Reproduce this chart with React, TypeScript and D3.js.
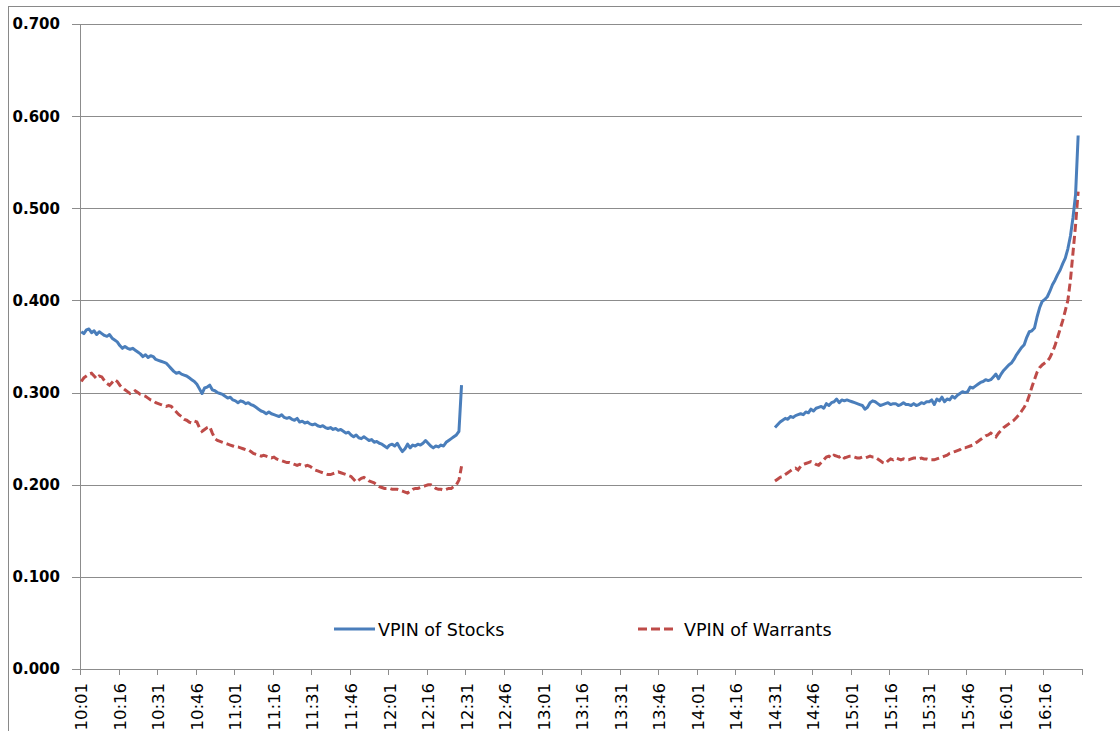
import React from "react";
import * as d3 from "d3";

// ---- Data ----
const tickLabels = [
  "10:01","10:16","10:31","10:46","11:01","11:16","11:31","11:46","12:01","12:16","12:31","12:46",
  "13:01","13:16","13:31","13:46","14:01","14:16","14:31","14:46","15:01","15:16","15:31","15:46",
  "16:01","16:16",
];
const firstMinute = 10 * 60 + 1; // 10:01
const lastMinute = 16 * 60 + 30; // 16:30
const amStart = "10:01";
const pmStart = "14:31";

const stocksAM = [
  0.366,0.364,0.368,0.369,0.365,0.367,0.363,0.366,0.364,0.362,
  0.361,0.363,0.359,0.357,0.355,0.351,0.348,0.350,0.348,0.347,
  0.348,0.346,0.344,0.342,0.339,0.341,0.338,0.340,0.339,0.336,
  0.335,0.334,0.333,0.332,0.329,0.326,0.323,0.321,0.322,0.320,
  0.319,0.318,0.316,0.314,0.312,0.309,0.304,0.299,0.305,0.306,
  0.308,0.303,0.302,0.300,0.299,0.298,0.296,0.294,0.295,0.292,
  0.291,0.289,0.291,0.290,0.288,0.289,0.287,0.286,0.284,0.282,
  0.280,0.279,0.277,0.279,0.277,0.276,0.275,0.274,0.276,0.273,
  0.272,0.273,0.271,0.270,0.272,0.268,0.269,0.267,0.268,0.266,
  0.265,0.266,0.264,0.263,0.264,0.262,0.261,0.262,0.260,0.261,
  0.259,0.260,0.258,0.256,0.257,0.254,0.252,0.254,0.251,0.250,
  0.252,0.250,0.248,0.249,0.246,0.247,0.245,0.244,0.242,0.240,
  0.243,0.244,0.242,0.245,0.240,0.236,0.239,0.244,0.240,0.243,
  0.242,0.244,0.243,0.245,0.248,0.245,0.242,0.240,0.242,0.241,
  0.243,0.242,0.246,0.248,0.250,0.252,0.254,0.258,0.308,
];
const warrantsAM = [
  0.312,0.316,0.318,0.320,0.321,0.318,0.315,0.318,0.317,0.313,
  0.310,0.308,0.311,0.314,0.312,0.308,0.305,0.303,0.301,0.299,
  0.300,0.302,0.300,0.298,0.297,0.296,0.294,0.292,0.291,0.289,
  0.288,0.287,0.286,0.285,0.286,0.285,0.282,0.279,0.276,0.274,
  0.271,0.270,0.268,0.267,0.269,0.268,0.262,0.258,0.260,0.262,
  0.263,0.256,0.250,0.248,0.247,0.246,0.245,0.244,0.243,0.242,
  0.241,0.241,0.240,0.239,0.238,0.238,0.236,0.234,0.233,0.232,
  0.231,0.232,0.231,0.230,0.229,0.230,0.228,0.227,0.226,0.225,
  0.224,0.224,0.223,0.222,0.221,0.222,0.221,0.220,0.221,0.220,
  0.218,0.216,0.215,0.214,0.213,0.212,0.211,0.211,0.212,0.213,
  0.214,0.213,0.212,0.211,0.210,0.209,0.206,0.203,0.205,0.207,
  0.208,0.206,0.204,0.203,0.202,0.200,0.198,0.197,0.196,0.196,
  0.196,0.195,0.195,0.195,0.194,0.193,0.192,0.191,0.193,0.195,
  0.196,0.196,0.197,0.198,0.199,0.200,0.200,0.198,0.196,0.195,
  0.195,0.194,0.195,0.196,0.196,0.198,0.200,0.205,0.220,
];
const stocksPM = [
  0.262,0.265,0.268,0.270,0.272,0.271,0.274,0.273,0.275,0.276,
  0.277,0.276,0.279,0.278,0.282,0.280,0.283,0.284,0.285,0.283,
  0.288,0.286,0.289,0.290,0.293,0.289,0.292,0.291,0.292,0.291,
  0.290,0.289,0.288,0.287,0.286,0.282,0.284,0.289,0.291,0.290,
  0.288,0.286,0.287,0.288,0.289,0.287,0.288,0.288,0.286,0.287,
  0.289,0.287,0.287,0.286,0.288,0.286,0.287,0.289,0.288,0.290,
  0.290,0.292,0.287,0.293,0.291,0.295,0.290,0.293,0.292,0.296,
  0.294,0.297,0.299,0.301,0.300,0.301,0.306,0.305,0.307,0.309,
  0.311,0.312,0.314,0.313,0.314,0.317,0.320,0.315,0.320,0.324,
  0.327,0.330,0.332,0.336,0.341,0.345,0.349,0.352,0.360,0.366,
  0.367,0.370,0.382,0.392,0.399,0.401,0.404,0.410,0.417,0.422,
  0.428,0.433,0.440,0.446,0.456,0.470,0.490,0.515,0.579,
];
const warrantsPM = [
  0.204,0.206,0.208,0.209,0.211,0.213,0.215,0.217,0.218,0.216,
  0.220,0.222,0.223,0.224,0.225,0.224,0.222,0.221,0.224,0.227,
  0.230,0.231,0.229,0.232,0.231,0.230,0.232,0.229,0.230,0.231,
  0.231,0.230,0.229,0.229,0.230,0.229,0.230,0.231,0.230,0.230,
  0.228,0.226,0.224,0.223,0.226,0.228,0.227,0.229,0.228,0.227,
  0.228,0.227,0.227,0.228,0.229,0.229,0.228,0.229,0.228,0.228,
  0.227,0.227,0.227,0.228,0.229,0.230,0.231,0.232,0.234,0.235,
  0.236,0.237,0.238,0.240,0.240,0.241,0.242,0.243,0.245,0.247,
  0.249,0.251,0.253,0.254,0.256,0.254,0.252,0.256,0.259,0.262,
  0.264,0.266,0.268,0.270,0.273,0.276,0.280,0.284,0.289,0.297,
  0.306,0.314,0.322,0.327,0.330,0.332,0.334,0.338,0.344,0.351,
  0.360,0.369,0.378,0.389,0.400,0.422,0.452,0.482,0.518,
];
const yTicks = [0, 0.1, 0.2, 0.3, 0.4, 0.5, 0.6, 0.7];
const seriesNames = ["VPIN of Stocks", "VPIN of Warrants"];

// ---- helpers ----
const fmtTime = (m: number) => `${Math.floor(m / 60)}:${String(m % 60).padStart(2, "0")}`;
const categories = d3.range(firstMinute, lastMinute + 1).map(fmtTime);

const W = 1120, H = 731;
const left = 80, right = 1082, top = 24, bottom = 669;

export default function App() {
  const x = d3.scaleBand<string>().domain(categories).range([left, right]).padding(0);
  const y = d3.scaleLinear().domain([0, 0.7]).range([bottom, top]);
  const bw = x.bandwidth();

  const toPts = (start: string, vals: number[]) => {
    const s = categories.indexOf(start);
    return vals.map((v, i) => [x(categories[s + i])! + bw / 2, y(v)] as [number, number]);
  };
  const line = d3.line<[number, number]>().x(d => d[0]).y(d => d[1]);

  const blue = "#4a7ebb";
  const red = "#be4b48";
  const grid = "#8c8c8c";
  const font = "'DejaVu Sans', sans-serif";

  const tickIdx = tickLabels.map(l => categories.indexOf(l));
  const boundaryIdx = [...tickIdx, categories.length];

  return (
    <svg width={W} height={H} style={{ position: "absolute", left: 0, top: 0, background: "#fff" }}>
      <rect x={8.5} y={6.5} width={W} height={H} fill="#fff" stroke="#898989" strokeWidth={1} />
      {/* gridlines + y ticks */}
      {yTicks.map(t => (
        <g key={t}>
          {t > 0 && <line x1={left} x2={right} y1={Math.round(y(t)) + 0.5} y2={Math.round(y(t)) + 0.5} stroke={grid} strokeWidth={1} />}
          <line x1={left - 8} x2={left} y1={Math.round(y(t)) + 0.5} y2={Math.round(y(t)) + 0.5} stroke={grid} strokeWidth={1} />
          <text x={60} y={y(t)} dy="0.36em" textAnchor="end" fontFamily={font} fontWeight="bold" fontSize={15} fill="#000">
            {t.toFixed(3)}
          </text>
        </g>
      ))}
      {/* axes */}
      <line x1={left + 0.5} x2={left + 0.5} y1={top} y2={bottom} stroke={grid} strokeWidth={1} />
      <line x1={left} x2={right} y1={bottom + 0.5} y2={bottom + 0.5} stroke={grid} strokeWidth={1} />
      {boundaryIdx.map(i => {
        const xx = i < categories.length ? x(categories[i])! : right;
        return <line key={i} x1={Math.round(xx) + 0.5} x2={Math.round(xx) + 0.5} y1={bottom} y2={bottom + 6} stroke={grid} strokeWidth={1} />;
      })}
      {tickLabels.map(l => {
        const cx = x(l)! + bw / 2;
        return (
          <text key={l} transform={`translate(${cx},${bottom + 14}) rotate(-90)`} dy="0.36em" textAnchor="end"
            fontFamily={font} fontSize={16.5} fill="#000">{l}</text>
        );
      })}
      {/* series */}
      <path d={line(toPts(amStart, warrantsAM))!} fill="none" stroke={red} strokeWidth={3} strokeDasharray="8,4" />
      <path d={line(toPts(pmStart, warrantsPM))!} fill="none" stroke={red} strokeWidth={3} strokeDasharray="8,4" />
      <path d={line(toPts(amStart, stocksAM))!} fill="none" stroke={blue} strokeWidth={3} strokeLinejoin="round" />
      <path d={line(toPts(pmStart, stocksPM))!} fill="none" stroke={blue} strokeWidth={3} strokeLinejoin="round" />
      {/* legend */}
      <line x1={334} x2={375} y1={629} y2={629} stroke={blue} strokeWidth={3} />
      <text x={378} y={636} fontFamily={font} fontSize={17.5} fill="#000">{seriesNames[0]}</text>
      <line x1={638} x2={674} y1={629} y2={629} stroke={red} strokeWidth={3} strokeDasharray="9,4" />
      <text x={684} y={636} fontFamily={font} fontSize={17.5} fill="#000">{seriesNames[1]}</text>
    </svg>
  );
}
